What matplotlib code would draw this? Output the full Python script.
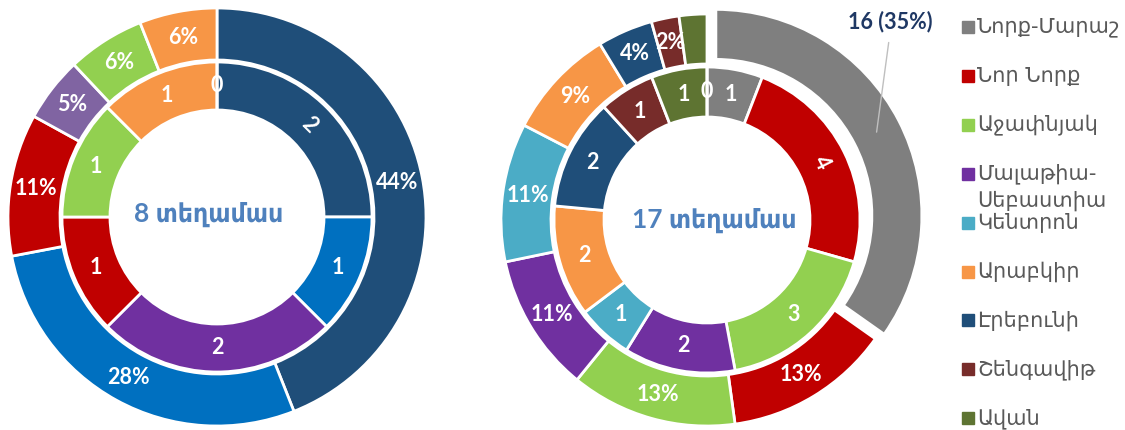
import matplotlib
matplotlib.use('Agg')
import matplotlib.pyplot as plt
from matplotlib.patches import Rectangle
import numpy as np

# left donut: 8 districts
left_inner_vals = [2, 1, 2, 1, 1, 1, 0]
left_inner_colors = ['#1F4E79', '#0070C0', '#7030A0', '#C00000', '#92D050', '#F79646', 'white']
left_outer_pct = [44, 28, 11, 5, 6, 6]
left_outer_colors = ['#1F4E79', '#0070C0', '#C00000', '#8064A2', '#92D050', '#F79646']
left_title = '8 տեղամաս'

# right donut: 17 districts
districts = ['Նորք-Մարաշ', 'Նոր Նորք', 'Աջափնյակ', 'Մալաթիա-\nՍեբաստիա', 'Կենտրոն',
             'Արաբկիր', 'Էրեբունի', 'Շենգավիթ', 'Ավան']
district_colors = ['#7F7F7F', '#C00000', '#92D050', '#7030A0', '#4BACC6',
                   '#F79646', '#1F4E79', '#772C2A', '#5E7432']
right_inner_vals = [1, 4, 3, 2, 1, 2, 2, 1, 1, 0]
right_outer_vals = [16, 6, 6, 5, 5, 4, 2, 1, 1]
right_title = '17 տեղամաս'

W, H = 1125, 430
NUM_FONT = ['Lato', 'DejaVu Sans']

fig = plt.figure(figsize=(W / 100, H / 100), dpi=100)
ax = fig.add_axes([0, 0, 1, 1])


def donut(vals, colors, center, radius, width, explode=None):
    wedges, _ = ax.pie(vals, colors=colors, center=center, radius=radius,
                       startangle=90, counterclock=False, explode=explode,
                       wedgeprops=dict(width=width, edgecolor='white', linewidth=2))
    return wedges


def mid_point(w):
    t = np.deg2rad((w.theta1 + w.theta2) / 2)
    r = w.r - w.width / 2
    return w.center[0] + r * np.cos(t), w.center[1] + r * np.sin(t)


def put_labels(wedges, labels, rotate=()):
    for i, (w, lab) in enumerate(zip(wedges, labels)):
        if lab is None:
            continue
        x, y = mid_point(w)
        rot = 0
        if i in rotate:
            rot = (w.theta1 + w.theta2) / 2 - 90
        ax.text(x, y, lab, ha='center', va='center', color='white', fontsize=15.5,
                fontweight='bold', family=NUM_FONT, rotation=rot)


# ---- left chart
lc = (217, H - 217)
wo = donut(left_outer_pct, left_outer_colors, lc, 209, 52)
put_labels(wo, [f'{p}%' for p in left_outer_pct])
wi = donut(left_inner_vals, left_inner_colors, lc, 155, 48)
put_labels(wi, [str(v) for v in left_inner_vals], rotate=(0,))
ax.text(lc[0] - 8, lc[1] + 3, left_title, ha='center', va='center', color='#4F81BD',
        fontsize=19, fontweight='bold', family=NUM_FONT, fontstretch='condensed')

# ---- right chart
rc = (707, H - 220)
total = sum(right_outer_vals)
pct = [round(100 * v / total) for v in right_outer_vals]
explode = [10] + [0] * (len(right_outer_vals) - 1)
wo = donut(right_outer_vals, district_colors, rc, 206, 50, explode=explode)
out_labels = [f'{p}%' for p in pct]
out_labels[0] = None
out_labels[-1] = None
put_labels(wo, out_labels)
ax.annotate(f'{right_outer_vals[0]} ({pct[0]}%)', xy=mid_point(wo[0]), xytext=(890, H - 22),
            ha='center', va='center', color='#1F3864', fontsize=15.5, fontweight='bold',
            family=NUM_FONT,
            arrowprops=dict(arrowstyle='-', color='#BFBFBF', lw=1, shrinkA=5, shrinkB=0,
                            relpos=(0.5, 0)))
wi = donut(right_inner_vals, district_colors + ['white'], rc, 153, 50)
put_labels(wi, [str(v) for v in right_inner_vals], rotate=(1,))
ax.text(rc[0] + 7, rc[1], right_title, ha='center', va='center', color='#4F81BD',
        fontsize=19, fontweight='bold', family=NUM_FONT, fontstretch='condensed')

# ---- legend
for i, (name, col) in enumerate(zip(districts, district_colors)):
    y = H - (27 + 48.9 * i)
    ax.add_patch(Rectangle((962, y - 6), 12, 12, color=col))
    for k, line in enumerate(name.split('\n')):
        ax.text(977, y - 27 * k, line, ha='left', va='center', color='#595959',
                fontsize=15, family='DejaVu Sans')

ax.set_xlim(0, W)
ax.set_ylim(0, H)
ax.set_aspect('auto')
ax.axis('off')

fig.savefig('out.png', dpi=100)
